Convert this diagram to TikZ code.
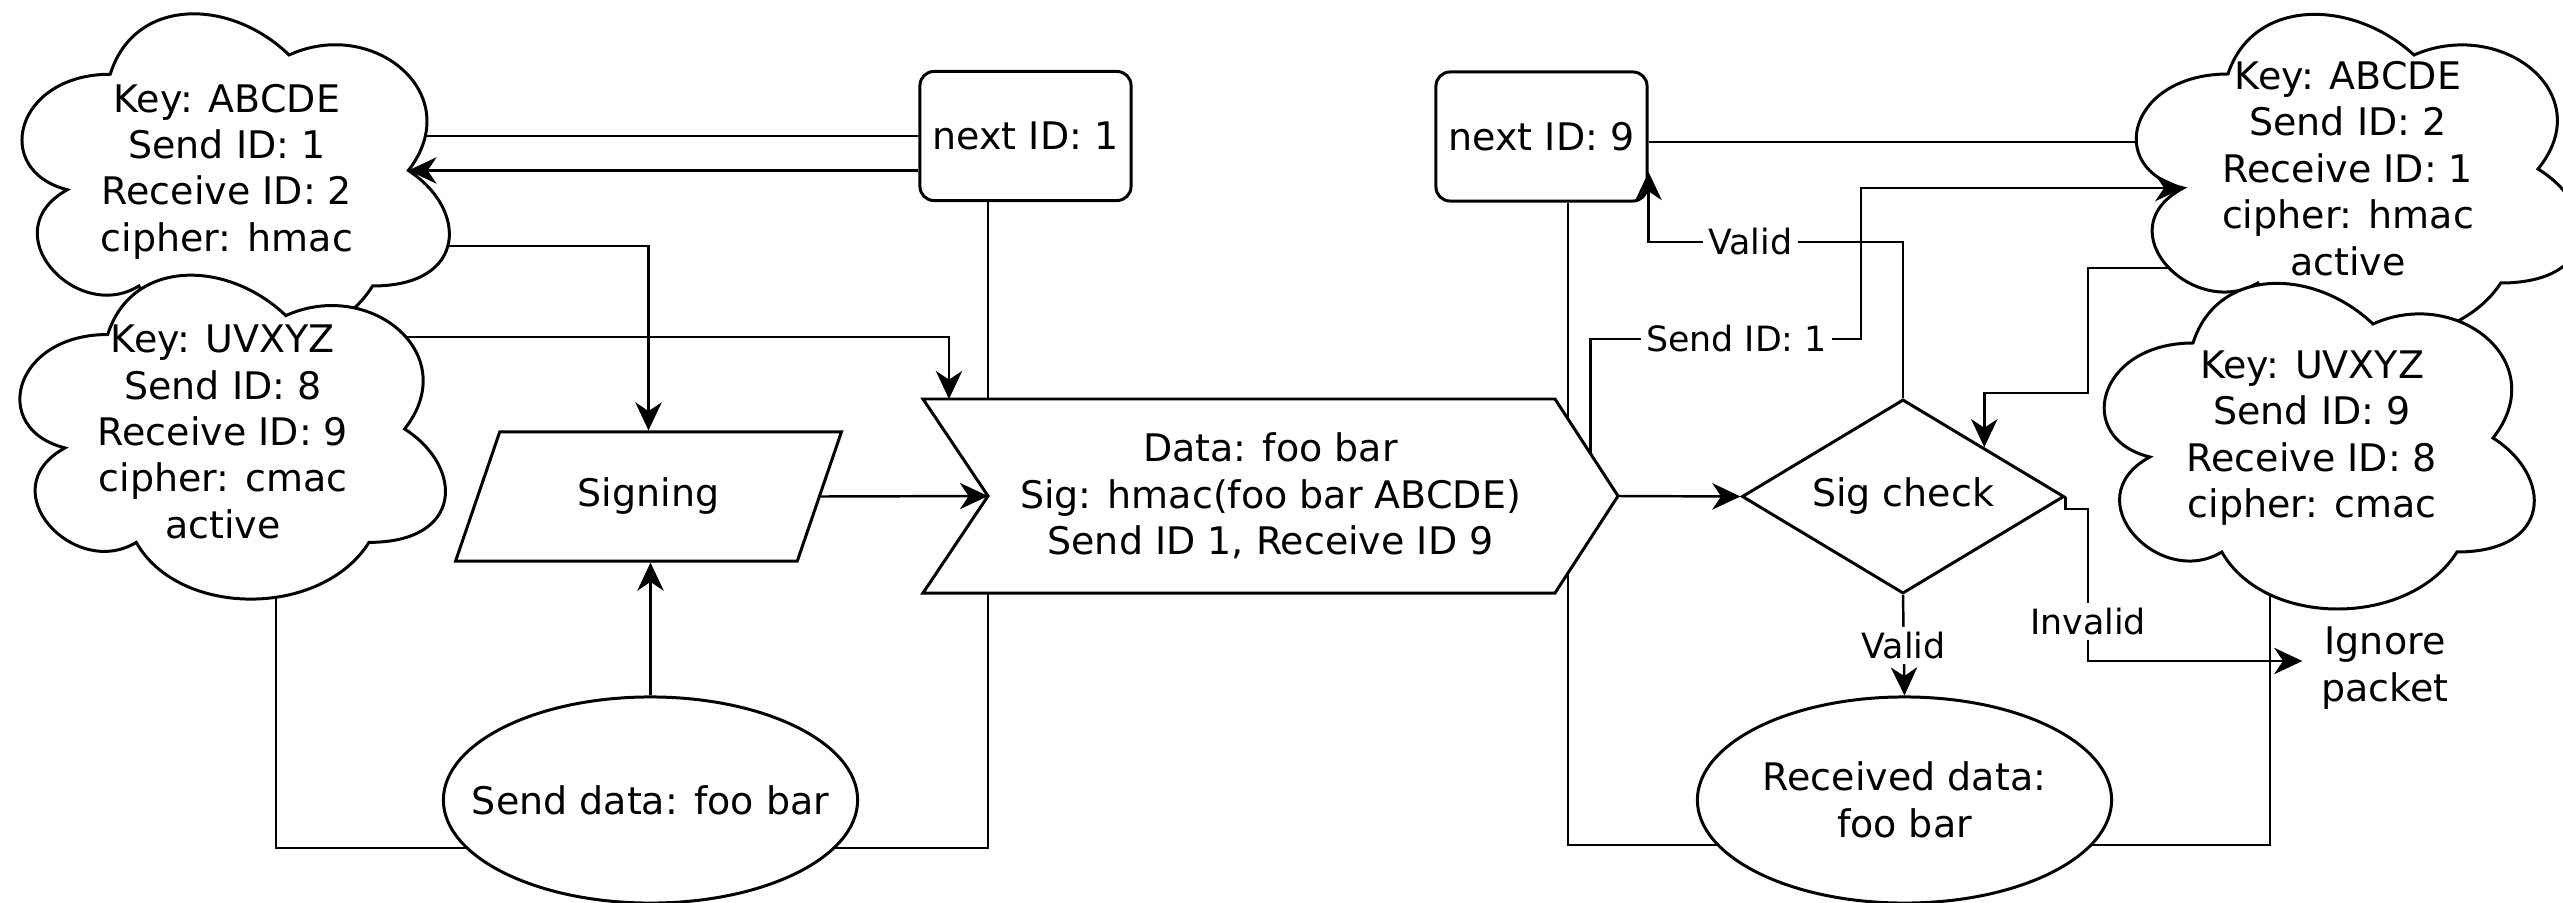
\documentclass[tikz,border=0pt]{standalone}
\usepackage{fontspec}
\setmainfont{DejaVu Sans}
\usetikzlibrary{positioning, arrows.meta, shapes.geometric}
\pgfdeclarelayer{bg}
\pgfsetlayers{bg,main}

\begin{document}
\begin{tikzpicture}[
        x=0.01cm, y=-0.01cm,
        line width=0.85pt,
        >={Stealth[length=8pt, width=7.5pt, inset=2.5pt]},
        txt/.style={font=\fontsize{10.8}{13.2}\selectfont, align=center, inner sep=1pt},
        lbl/.style={font=\fontsize{9.9}{12}\selectfont, fill=white, inner sep=1.5pt},
        idbox/.style={txt, draw, fill=white, rounded corners=4pt, minimum width=2.11cm, minimum height=1.29cm},
        io/.style={txt, draw, fill=white, trapezium, trapezium stretches=true,
            trapezium left angle=63.3, trapezium right angle=116.7,
            minimum width=3.87cm, minimum height=1.29cm},
        decide/.style={txt, draw, fill=white, diamond, aspect=1.66, inner sep=0pt,
            minimum width=3.22cm, minimum height=1.94cm},
        datum/.style={txt, draw, fill=white, ellipse, inner sep=0pt, minimum width=4.14cm, minimum height=2.06cm},
        wire/.style={line width=0.7pt},
        pics/keycloud/.style 2 args={code={
            \draw[fill=white, xscale=#1, yscale=#2]
                (0.25,0.25) .. controls (0.05,0.25) and (0,0.5) .. (0.16,0.55)
                .. controls (0,0.66) and (0.18,0.9) .. (0.31,0.8)
                .. controls (0.4,1) and (0.7,1) .. (0.8,0.8)
                .. controls (1,0.8) and (1,0.6) .. (0.875,0.5)
                .. controls (1,0.3) and (0.8,0.1) .. (0.625,0.2)
                .. controls (0.5,0.05) and (0.3,0.05) .. (0.25,0.25) -- cycle;
            \coordinate (-w) at (0.16*#1,0.55*#2);
            \coordinate (-e) at (0.875*#1,0.5*#2);
        }},
    ]
    \useasboundingbox (0,0) rectangle (2563,903);

    % key clouds
    \pic (kA) at (-9,-22) {keycloud={477}{385}};
    \node[txt] (cA) at (227,171.5) {Key: ABCDE\\Send ID: 1\\Receive ID: 2\\cipher: hmac};
    \pic (kB) at (-11,240) {keycloud={475}{378}};
    \node[txt] (cB) at (223,432) {Key: UVXYZ\\Send ID: 8\\Receive ID: 9\\cipher: cmac\\active};
    \pic (kC) at (2104,-21) {keycloud={496}{380}};
    \node[txt] (cC) at (2348,168.5) {Key: ABCDE\\Send ID: 2\\Receive ID: 1\\cipher: hmac\\active};
    \pic (kD) at (2073,248) {keycloud={480}{380}};
    \node[txt] (cD) at (2312,438) {Key: UVXYZ\\Send ID: 9\\Receive ID: 8\\cipher: cmac};

    \node[idbox] (n1) at (1025.5,136) {next ID: 1};
    \node[idbox] (n9) at (1541.5,136.5) {next ID: 9};
    \node[io] (sig) at (648.5,496.5) {Signing};

    % packet
    \draw[fill=white] (923,399) -- (1555,399) -- coordinate[pos=0.56] (sid) (1618,496) coordinate (tip)
        -- (1555,593) -- (923,593) -- (988,496) coordinate (notch) -- cycle;
    \node[txt] (dat) at (1270.5,496) {Data: foo bar\\Sig: hmac(foo bar ABCDE)\\Send ID 1, Receive ID 9};

    \node[decide] (chk) at (1903,496.5) {Sig check};
    \node[datum, label={[txt]center:Send data: foo bar}] (snd) at (650.5,800) {};
    \node[datum] (rcv) at (1904.5,800) {Received data:\\foo bar};
    \node[txt, inner xsep=5pt] (ign) at (2385,668) {Ignore\\packet};

    \begin{pgfonlayer}{bg}
        % sender side
        \draw[wire] (n1.west) -- (n1.west -| cA.center);
        \draw[wire] (n1.south -| notch) |- (snd.center |- 0,848);
        \draw[wire] (cB.center -| 276,0) |- (snd.center |- 0,848);
        \draw[wire, ->] (cA.center |- 0,246) -| (sig.north);
        \draw[wire, ->] (cB.center |- 0,337) -| (949,399);
        \draw[wire, ->] (sig.east) -- (notch);
        \draw[wire, ->] (snd.north) -- (snd.north |- sig.south);
        \draw[wire, ->] (tip) -- (chk.west);
        % receiver side
        \draw[wire] (n9.east |- 0,142) -- (cC.center |- 0,142);
        \draw[wire] (n9.south -| 1568,0) |- (rcv.center |- 0,845);
        \draw[wire] (rcv.center |- 0,845) -| (cD.center -| 2270,0);
        \draw[wire, ->] (cC.center |- 0,268) -| (2088,393) -| (chk.north east);
        \draw[wire, ->] (chk.south) -- node[lbl] {Valid} (rcv.north);
        \draw[wire, ->] (chk.east) |- (2088,509) |- node[lbl, pos=0.37] {Invalid} (ign.west |- 0,661);
    \end{pgfonlayer}

    \draw[wire, ->] (n1.west |- kA-e) -- (kA-e);
    \draw[wire, ->] (sid) |- node[lbl, pos=0.77] {Send ID: 1} (1861,339) |- (kC-w);
    \draw[wire, ->] (chk.north) |- node[lbl, pos=0.8] {Valid} (n9.east |- 0,242) -- (n9.east |- 0,172);
\end{tikzpicture}
\end{document}
